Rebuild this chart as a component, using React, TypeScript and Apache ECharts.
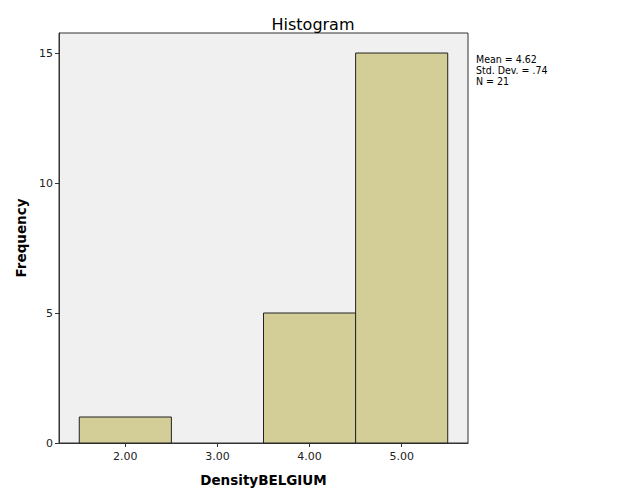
import React, { useEffect, useRef } from "react";
import * as echarts from "echarts";

const binCenters = [2, 3, 4, 5];
const frequencies = [1, 0, 5, 15];
const binWidth = 1;
const xTickValues = [2, 3, 4, 5];
const yTickValues = [0, 5, 10, 15];
const statsLines = ["Mean = 4.62", "Std. Dev. = .74", "N = 21"];

export default function App() {
  const ref = useRef<HTMLDivElement>(null);
  useEffect(() => {
    if (!ref.current) return;
    const chart = echarts.init(ref.current, null, { renderer: "svg" });
    const font = "DejaVu Sans";
    const condensed = "DejaVu Sans Condensed, DejaVu Sans";
    chart.setOption({
      animation: false,
      backgroundColor: "#ffffff",
      title: {
        text: "Histogram",
        left: "center",
        top: 11,
        textStyle: { fontFamily: font, fontSize: 16, fontWeight: "normal", color: "#000" },
      },
      grid: {
        left: 59,
        right: 158,
        top: 33,
        bottom: 58,
        show: true,
        backgroundColor: "#f0f0f0",
        borderColor: "#333",
        borderWidth: 1,
      },
      xAxis: {
        type: "value",
        min: 1.28,
        max: 5.72,
        name: "DensityBELGIUM",
        nameLocation: "middle",
        nameGap: 30,
        nameTextStyle: { fontFamily: font, fontSize: 13.5, fontWeight: "bold", color: "#000" },
        axisLine: { show: true, onZero: false, lineStyle: { color: "#333" } },
        axisTick: { show: true, length: 4, lineStyle: { color: "#333" }, customValues: xTickValues },
        axisLabel: {
          fontFamily: font,
          fontSize: 11,
          color: "#222",
          margin: 8,
          customValues: xTickValues,
          formatter: (v: number) => v.toFixed(2),
        },
        splitLine: { show: false },
      },
      yAxis: {
        type: "value",
        min: 0,
        max: 15.77,
        name: "Frequency",
        nameLocation: "middle",
        nameGap: 30,
        nameTextStyle: { fontFamily: font, fontSize: 13.5, fontWeight: "bold", color: "#000" },
        axisLine: { show: true, lineStyle: { color: "#333" } },
        axisTick: { show: true, length: 4, lineStyle: { color: "#333" }, customValues: yTickValues },
        axisLabel: {
          fontFamily: font,
          fontSize: 11,
          color: "#222",
          margin: 6,
          customValues: yTickValues,
        },
        splitLine: { show: false },
      },
      series: [
        {
          type: "custom",
          data: binCenters.map((c, i) => [c, frequencies[i]]),
          renderItem: (params: any, api: any) => {
            const c = api.value(0);
            const f = api.value(1);
            if (!f) return null;
            const p0 = api.coord([c - binWidth / 2, 0]);
            const p1 = api.coord([c + binWidth / 2, f]);
            return {
              type: "rect",
              shape: { x: p0[0], y: p1[1], width: p1[0] - p0[0], height: p0[1] - p1[1] },
              style: { fill: "#d3ce97", stroke: "#222", lineWidth: 1 },
            };
          },
        },
      ],
      graphic: statsLines.map((line, i) => ({
        type: "text",
        left: 476,
        top: 53 + i * 11,
        style: {
          text: line,
          fontFamily: condensed,
          fontSize: 10.5,
          lineHeight: 11,
          fill: "#000",
        },
      })),
    });
    return () => chart.dispose();
  }, []);
  return <div ref={ref} style={{ width: 626, height: 501, position: "absolute", left: 0, top: 0 }} />;
}
